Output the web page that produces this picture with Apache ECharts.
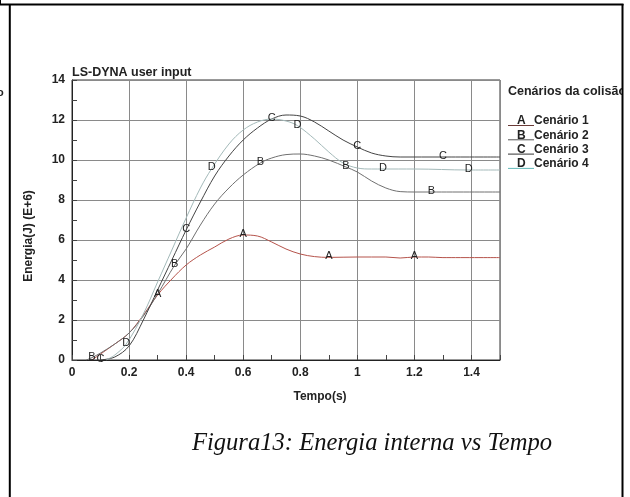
<!DOCTYPE html>
<html>
<head>
<meta charset="utf-8">
<script src="https://cdn.jsdelivr.net/npm/echarts@6.0.0/dist/echarts.min.js"></script>
<style>
  html, body { margin: 0; padding: 0; background: #fff; }
  #chart { width: 630px; height: 497px; }
</style>
</head>
<body>
<div id="chart"></div>
<script>
// Internal energy (E+6 J) versus time (s) for four collision scenarios
const scenarioNames = ['Cenário 1', 'Cenário 2', 'Cenário 3', 'Cenário 4'];
const curveLetters = ['A', 'B', 'C', 'D'];

const tempoA   = [0.07, 0.1, 0.15, 0.2, 0.25, 0.3, 0.35, 0.4, 0.45, 0.5, 0.55, 0.6, 0.65, 0.7, 0.75, 0.8, 0.85, 0.9, 1.0, 1.1, 1.15, 1.2, 1.25, 1.3, 1.5];
const energiaA = [0.0, 0.3, 0.8, 1.35, 2.25, 3.25, 4.05, 4.75, 5.25, 5.65, 6.05, 6.25, 6.2, 5.9, 5.55, 5.3, 5.17, 5.13, 5.15, 5.15, 5.1, 5.15, 5.15, 5.12, 5.12];
const letterTempoA = [0.3, 0.6, 0.9, 1.2];

const tempoB   = [0.05, 0.07, 0.1, 0.15, 0.2, 0.25, 0.3, 0.36, 0.4, 0.45, 0.5, 0.55, 0.6, 0.66, 0.7, 0.75, 0.8, 0.85, 0.9, 0.96, 1.0, 1.05, 1.1, 1.15, 1.2, 1.26, 1.5];
const energiaB = [0.0, 0.12, 0.35, 0.8, 1.35, 2.2, 3.3, 4.75, 5.55, 6.75, 7.8, 8.6, 9.25, 9.85, 10.1, 10.27, 10.3, 10.2, 10.0, 9.65, 9.4, 8.95, 8.6, 8.42, 8.4, 8.4, 8.4];
const letterTempoB = [0.07, 0.36, 0.66, 0.96, 1.26];

const tempoC   = [0.1, 0.15, 0.2, 0.25, 0.3, 0.35, 0.4, 0.45, 0.5, 0.55, 0.6, 0.65, 0.7, 0.75, 0.8, 0.85, 0.9, 0.95, 1.0, 1.05, 1.1, 1.15, 1.3, 1.5];
const energiaC = [0.0, 0.15, 0.7, 2.0, 3.5, 5.0, 6.5, 7.9, 9.2, 10.2, 11.0, 11.6, 12.05, 12.25, 12.2, 11.9, 11.45, 11.0, 10.65, 10.35, 10.2, 10.15, 10.15, 10.15];
const letterTempoC = [0.1, 0.4, 0.7, 1.0, 1.3];

const tempoD   = [0.12, 0.15, 0.19, 0.25, 0.3, 0.35, 0.4, 0.45, 0.49, 0.55, 0.6, 0.65, 0.7, 0.75, 0.79, 0.85, 0.9, 0.95, 1.0, 1.05, 1.09, 1.2, 1.39, 1.5];
const energiaD = [0.0, 0.25, 0.8, 2.3, 3.9, 5.5, 7.1, 8.6, 9.58, 10.8, 11.5, 11.9, 12.05, 11.95, 11.72, 11.05, 10.4, 9.85, 9.6, 9.55, 9.55, 9.55, 9.5, 9.5];
const letterTempoD = [0.19, 0.49, 0.79, 1.09, 1.39];

const xTickValues = [0, 0.2, 0.4, 0.6, 0.8, 1, 1.2, 1.4];
const yTickValues = [0, 2, 4, 6, 8, 10, 12, 14];

const lineColors = ['#b5534b', '#707070', '#444444', '#a3b9b9'];
const keyColors  = ['#6a3a36', '#555555', '#333333', '#62b8b8'];

const tempos   = [tempoA, tempoB, tempoC, tempoD];
const energias = [energiaA, energiaB, energiaC, energiaD];
const letterTempos = [letterTempoA, letterTempoB, letterTempoC, letterTempoD];

function buildData(xs, ys, letterXs, letter) {
  return xs.map(function (x, i) {
    const item = { value: [x, ys[i]] };
    if (letterXs.indexOf(x) >= 0) {
      item.label = { show: true, formatter: letter };
    }
    return item;
  });
}

const series = curveLetters.map(function (letter, k) {
  return {
    name: scenarioNames[k],
    type: 'line',
    smooth: 0.35,
    symbol: 'circle',
    symbolSize: 0,
    showSymbol: true,
    lineStyle: { color: lineColors[k], width: 1 },
    itemStyle: { color: lineColors[k] },
    label: {
      show: false,
      position: 'inside',
      offset: [0, -1],
      color: '#222',
      fontFamily: 'Liberation Sans, Arial, sans-serif',
      fontSize: 11
    },
    emphasis: { disabled: true },
    data: buildData(tempos[k], energias[k], letterTempos[k], letter)
  };
});

const boldFont = 'Liberation Sans, Arial, sans-serif';

// Legend block drawn as text with a coloured key line under each letter
const legendGraphics = [{
  type: 'text', left: 508, top: 85, z: 10,
  style: { text: 'Cenários da colisão', font: 'bold 12.5px ' + boldFont, fill: '#222' }
}];
curveLetters.forEach(function (letter, k) {
  const cy = 115 + k * 14.3;
  legendGraphics.push({
    type: 'line', z: 10,
    shape: { x1: 508, y1: cy + 10.5, x2: 534, y2: cy + 10.5 },
    style: { stroke: keyColors[k], lineWidth: 1 }
  });
  legendGraphics.push({
    type: 'text', left: 517, top: cy, z: 10,
    style: { text: letter, font: 'bold 12px ' + boldFont, fill: '#222' }
  });
  legendGraphics.push({
    type: 'text', left: 534, top: cy, z: 10,
    style: { text: scenarioNames[k], font: 'bold 12px ' + boldFont, fill: '#222' }
  });
});

const chart = echarts.init(document.getElementById('chart'), null, { renderer: 'canvas' });
chart.setOption({
  animation: false,
  backgroundColor: '#fff',
  grid: { left: 72, top: 80, width: 428, height: 280, show: true, borderColor: '#333', borderWidth: 1, containLabel: false },
  xAxis: {
    type: 'value', min: 0, max: 1.5, interval: 0.2,
    axisLine: { show: true, onZero: false, lineStyle: { color: '#222', width: 1 } },
    axisTick: { show: true, inside: true, length: 5, lineStyle: { color: '#444' } },
    minorTick: { show: true, splitNumber: 2, length: 5, lineStyle: { color: '#444' } },
    axisLabel: {
      showMaxLabel: false, margin: 7, color: '#222',
      fontFamily: boldFont, fontWeight: 'bold', fontSize: 12,
      formatter: function (v) { return xTickValues.indexOf(v) >= 0 ? String(v) : ''; }
    },
    splitLine: { show: true, lineStyle: { color: '#8a8a8a', width: 1 } }
  },
  yAxis: {
    type: 'value', min: 0, max: 14, interval: 2,
    axisLine: { show: true, lineStyle: { color: '#222', width: 1 } },
    axisTick: { show: true, inside: true, length: 5, lineStyle: { color: '#444' } },
    minorTick: { show: true, splitNumber: 2, length: 5, lineStyle: { color: '#444' } },
    axisLabel: {
      margin: 7, color: '#222',
      fontFamily: boldFont, fontWeight: 'bold', fontSize: 12,
      formatter: function (v) { return yTickValues.indexOf(v) >= 0 ? String(v) : ''; }
    },
    splitLine: { show: true, lineStyle: { color: '#8a8a8a', width: 1 } }
  },
  series: series,
  graphic: [
    { type: 'text', left: 72, top: 66, style: { text: 'LS-DYNA user input', font: 'bold 12.5px ' + boldFont, fill: '#222' } },
    {
      type: 'text', x: 29, y: 236, rotation: Math.PI / 2,
      style: { text: 'Energia(J) (E+6)', font: 'bold 12px ' + boldFont, fill: '#222', align: 'center', verticalAlign: 'middle' }
    },
    { type: 'text', x: 320, y: 397, style: { text: 'Tempo(s)', font: 'bold 12px ' + boldFont, fill: '#222', align: 'center', verticalAlign: 'middle' } },
    { type: 'text', x: 372, y: 444, style: { text: 'Figura13: Energia interna vs Tempo', font: 'italic 24.6px Liberation Serif, Times New Roman, serif', fill: '#111', align: 'center', verticalAlign: 'middle' } },
    { type: 'text', x: -3, y: 87, style: { text: 'o', font: 'bold 11px ' + boldFont, fill: '#222' } }
  ].concat(legendGraphics).concat([
    // page frame
    { type: 'rect', z: 20, shape: { x: 622, y: 0, width: 8, height: 497 }, style: { fill: '#fff' } },
    { type: 'line', z: 21, shape: { x1: 0, y1: 4.5, x2: 623.5, y2: 4.5 }, style: { stroke: '#000', lineWidth: 2 } },
    { type: 'line', z: 21, shape: { x1: 9.8, y1: 4, x2: 9.8, y2: 497 }, style: { stroke: '#000', lineWidth: 2 } },
    { type: 'line', z: 21, shape: { x1: 622.5, y1: 4, x2: 622.5, y2: 497 }, style: { stroke: '#000', lineWidth: 2 } },
    { type: 'line', z: 21, shape: { x1: 0.5, y1: 0, x2: 0.5, y2: 5 }, style: { stroke: '#000', lineWidth: 1 } }
  ])
});
</script>
</body>
</html>
